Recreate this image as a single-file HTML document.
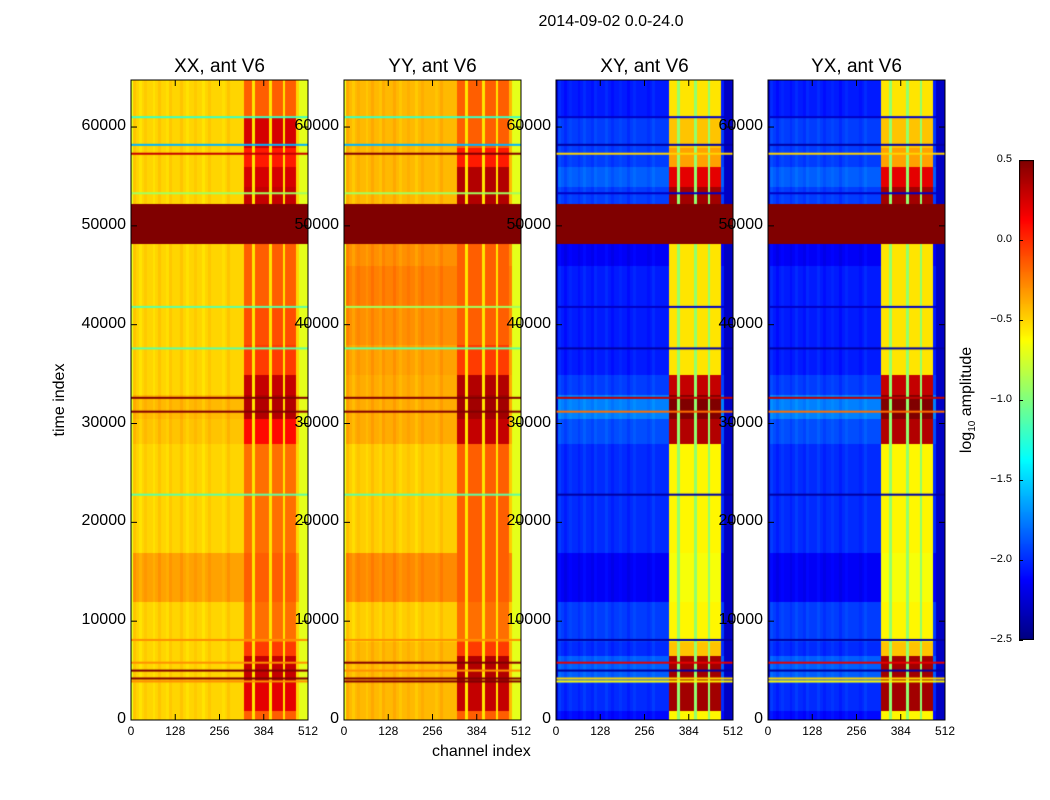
<!DOCTYPE html>
<html><head><meta charset="utf-8"><style>
body{margin:0;background:#fff;}
#root{position:relative;width:1050px;height:800px;background:#fff;font-family:"Liberation Sans",sans-serif;color:#000;overflow:hidden}
.t{position:absolute;white-space:nowrap}
canvas{position:absolute}
</style></head><body>
<div id="root">
<div class="t" style="left:0;width:1222px;text-align:center;top:13px;font-size:16px">2014-09-02 0.0-24.0</div>
<div class="t" style="left:432px;top:743px;font-size:16px">channel index</div>
<div class="t" style="left:60px;top:400px;font-size:16px;transform:translate(-50%,-50%) rotate(-90deg)">time index</div>
<div class="t" style="left:968px;top:400px;font-size:16px;transform:translate(-50%,-50%) rotate(-90deg)">log<sub style="font-size:10px">10</sub> amplitude</div>
</div>
<script>
const panelTitles=["XX, ant V6","YY, ant V6","XY, ant V6","YX, ant V6"];
const panelLeft=[131,344,556,768];
const yTicks=[0,10000,20000,30000,40000,50000,60000];
const xTicks=[0,128,256,384,512];
const cbTicks=[0.5,0.0,-0.5,-1.0,-1.5,-2.0,-2.5];
const cbLabels=["0.5","0.0","\u22120.5","\u22121.0","\u22121.5","\u22122.0","\u22122.5"];
// time segments (thousands)
const segStart=[0,1,3.8,6.5,8,12,17,28,30.5,33,35,38,42,46,48.3,52.3,54,56,58,61,64.8];
const xxBg=[-0.5,-0.5,-0.5,-0.5,-0.5,-0.35,-0.5,-0.45,-0.42,-0.5,-0.5,-0.5,-0.5,-0.5,0.5,-0.5,-0.5,-0.5,-0.5,-0.5];
const xxBand=[-0.15,0.2,0.3,-0.05,-0.2,-0.15,-0.2,0.1,0.35,0.3,-0.05,-0.1,-0.15,-0.15,0.5,0.3,0.25,0.05,0.25,-0.15];
const yyBg=[-0.42,-0.42,-0.42,-0.42,-0.48,-0.28,-0.48,-0.38,-0.38,-0.38,-0.35,-0.3,-0.25,-0.3,0.5,-0.42,-0.42,-0.42,-0.42,-0.42];
const yyBand=[-0.15,0.3,0.35,-0.05,-0.2,-0.15,-0.15,0.3,0.4,0.35,-0.05,-0.15,-0.15,-0.15,0.5,0.35,0.35,0.05,-0.15,-0.15];
const xyBg=[-2.1,-2.0,-1.85,-2.0,-1.95,-2.15,-2.0,-1.9,-1.75,-1.95,-2.05,-2.05,-2.05,-2.15,0.5,-1.95,-1.85,-1.95,-1.95,-2.05];
const xyBand=[-0.6,0.4,0.4,-0.45,-0.6,-0.65,-0.6,0.35,0.5,0.3,-0.55,-0.55,-0.55,-0.55,0.5,0.4,0.2,-0.35,-0.45,-0.55];
const yxBg=[-2.1,-2.0,-1.85,-2.0,-1.95,-2.15,-2.0,-1.9,-1.75,-1.95,-2.05,-2.05,-2.05,-2.15,0.5,-1.95,-1.85,-1.95,-1.95,-2.05];
const yxBand=[-0.6,0.4,0.4,-0.45,-0.6,-0.65,-0.6,0.35,0.5,0.3,-0.55,-0.55,-0.55,-0.55,0.5,0.4,0.2,-0.35,-0.45,-0.55];
const gapVal=[-0.55,-0.55,-0.95,-0.95];
const edgeVal=[-0.7,-0.7,-2.3,-2.3];
// column classes, 64 bins of 8 channels: 0 bg,1 band,2 gap,3 edge
const colClass=[3,0,0,0,0,0,0,0,0,0,0,0,0,0,0,0,0,0,0,0,0,0,0,0,0,0,0,0,0,0,0,0,0,0,0,0,0,0,0,0,0,1,1,1,2,1,1,1,1,1,2,1,1,1,1,2,1,1,1,1,0,3,3,3];
const colOffset=[0,0.05,0,-0.05,0,0.03,0,0,-0.04,0,0.05,0,0,-0.03,0.04,0,0,0,0.05,0,-0.04,0,0,0.03,0,0,-0.05,0,0.04,0,0,0,0,-0.03,0,0.05,0,0,0,0,0,0,0,0,0,0,0,0,0,0,0,0,0,0,0,0,0,0,0,0,0,0,0,0];
// horizontal flagged lines (thousands)
const lineT=[61,58.2,57.3,53.3,41.8,37.6,32.6,31.2,22.8,8.1,5.8,5,4.2,3.9];
const xxLine=[-1.2,-1.6,0.3,-0.9,-1.1,-1.1,0.5,0.5,-1.1,-0.3,-0.3,0.5,0.5,-0.3];
const yyLine=[-1.2,-1.6,0.5,-0.9,-0.9,-1.1,0.5,0.5,-1.1,-0.3,0.5,-0.3,0.5,0.5];
const xyLine=[-2.3,-2.4,-0.5,-2.3,-2.3,-2.4,0.3,-0.2,-2.4,-2.4,0.2,-2.4,-0.5,-0.6];
const yxLine=[-2.3,-2.4,-0.5,-2.3,-2.3,-2.4,0.3,-0.2,-2.4,-2.4,0.2,-2.4,-0.5,-0.6];
const bgs=[xxBg,yyBg,xyBg,yxBg],bands=[xxBand,yyBand,xyBand,yxBand],lines=[xxLine,yyLine,xyLine,yxLine];

const PT=80,PB=720,PW=177,TMAX=64.76,CMAX=512,VMIN=-2.5,VMAX=0.5;
function yS(t){return PB-(t/TMAX)*(PB-PT);}
function xS(c){return c/CMAX*PW;}
function jet(v){let f=(v-VMIN)/(VMAX-VMIN);f=Math.max(0,Math.min(1,f));
 const cl=x=>Math.max(0,Math.min(1,x));
 const r=cl(1.5-Math.abs(4*f-3)),g=cl(1.5-Math.abs(4*f-2)),b=cl(1.5-Math.abs(4*f-1));
 return `rgb(${Math.round(r*255)},${Math.round(g*255)},${Math.round(b*255)})`;}
const root=document.getElementById('root');
function div(cls,css,txt){const d=document.createElement('div');d.className=cls;d.style.cssText=css;if(txt!==undefined)d.textContent=txt;root.appendChild(d);return d;}
for(let p=0;p<4;p++){
 const L=panelLeft[p];
 const cv=document.createElement('canvas');cv.width=PW;cv.height=PB-PT;cv.style.left=L+'px';cv.style.top=PT+'px';
 
 
 root.appendChild(cv);
 const ctx=cv.getContext('2d');
 for(let s=0;s<segStart.length-1;s++){
  const y1=yS(segStart[s+1])-PT,y0=yS(segStart[s])-PT;
  for(let c=0;c<colClass.length;c++){
   let v;const k=colClass[c];
   if(bgs[p][s]>=0.5)v=0.5;
   else if(k===0)v=bgs[p][s]+colOffset[c];
   else if(k===1)v=bands[p][s];
   else if(k===2)v=gapVal[p];
   else v=edgeVal[p];
   ctx.fillStyle=jet(v);
   const x0=xS(c*8),x1=xS((c+1)*8);
   ctx.fillRect(Math.floor(x0),Math.floor(y1),Math.ceil(x1-x0)+1,Math.ceil(y0-y1)+1);
  }
 }
 for(let i=0;i<lineT.length;i++){
  ctx.fillStyle=jet(lines[p][i]);
  ctx.fillRect(0,yS(lineT[i])-PT-1,PW,2);
 }
 const NS='http://www.w3.org/2000/svg';
 const sv=document.createElementNS(NS,'svg');sv.setAttribute('width',PW+2);sv.setAttribute('height',PB-PT+2);
 sv.style.cssText=`position:absolute;left:${L-1}px;top:${PT-1}px;overflow:visible`;
 
 
 let h=`<rect x="1" y="1" width="${PW}" height="${PB-PT}" fill="none" stroke="#000" stroke-width="1"/>`;
 yTicks.forEach(t=>{const y=yS(t/1000)-PT+1;h+=`<line x1="1" x2="7" y1="${y}" y2="${y}" stroke="#000"/><line x1="${PW+1}" x2="${PW-5}" y1="${y}" y2="${y}" stroke="#000"/>`;});
 xTicks.forEach(c=>{const x=xS(c)+1;h+=`<line x1="${x}" x2="${x}" y1="1" y2="7" stroke="#000"/><line x1="${x}" x2="${x}" y1="${PB-PT+1}" y2="${PB-PT-5}" stroke="#000"/>`;});
 sv.innerHTML=h;root.appendChild(sv);
 const tt=div('t',`left:${L}px;width:${PW}px;text-align:center;top:56px;font-size:19px`,panelTitles[p]);
 
 
 yTicks.forEach(t=>{const d=div('t',`right:${1050-L+5}px;top:${yS(t/1000)-10}px;font-size:16px;z-index:3`,String(t));
  
  });
 xTicks.forEach(c=>{const d=div('t',`left:${L+xS(c)-20}px;width:40px;text-align:center;top:724px;font-size:12px`,String(c));
  
  });
}
const CB={l:1019,t:160,w:15,b:640};
const cc=document.createElement('canvas');cc.width=CB.w;cc.height=CB.b-CB.t;cc.style.left=CB.l+'px';cc.style.top=CB.t+'px';


root.appendChild(cc);
const c2=cc.getContext('2d');
for(let y=0;y<CB.b-CB.t;y++){c2.fillStyle=jet(VMAX-(y+0.5)/(CB.b-CB.t)*(VMAX-VMIN));c2.fillRect(0,y,CB.w,1);}
c2.strokeStyle='#000';c2.strokeRect(0.5,0.5,CB.w-1,CB.b-CB.t-1);
function cbY(v){return CB.t+(VMAX-v)/(VMAX-VMIN)*(CB.b-CB.t);}
cbTicks.forEach((v,i)=>{
 const tk=div('t',`left:${CB.l}px;top:${cbY(v)}px;width:4px;height:1px;background:#000`);
 
 
 const d=div('t',`right:${1050-CB.l+7}px;top:${cbY(v)-7}px;font-size:11px`,cbLabels[i]);
 
 
});
</script>
</body></html>
